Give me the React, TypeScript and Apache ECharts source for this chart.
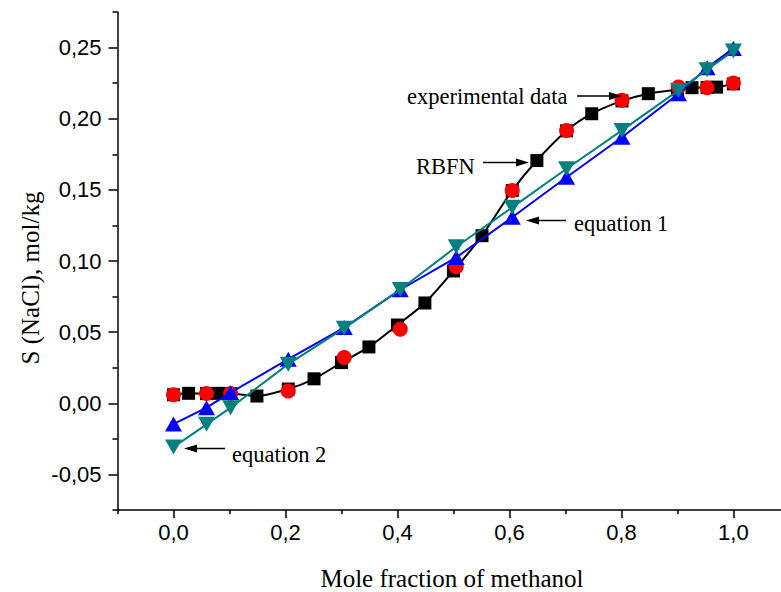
import React, { useEffect, useRef } from "react";
import * as echarts from "echarts";

// Experimental data (red circles)
const expX = [0, 0.059, 0.102, 0.205, 0.305, 0.405, 0.505, 0.605, 0.702, 0.801, 0.902, 0.953, 1.0];
const expY = [0.006, 0.0068, 0.0068, 0.0087, 0.0321, 0.052, 0.096, 0.1495, 0.1918, 0.2129, 0.2223, 0.2218, 0.2251];

// RBFN (black squares, smooth curve)
const rbfnX = [0, 0.027, 0.059, 0.08, 0.102, 0.149, 0.205, 0.251, 0.3, 0.349, 0.4, 0.449, 0.5, 0.551, 0.605, 0.649, 0.702, 0.747, 0.801, 0.848, 0.9, 0.926, 0.953, 0.97, 1.0];
const rbfnY = [0.006, 0.007, 0.0068, 0.007, 0.0068, 0.0051, 0.010, 0.0172, 0.0286, 0.0396, 0.055, 0.0705, 0.093, 0.1178, 0.1495, 0.1706, 0.1915, 0.2035, 0.2125, 0.2176, 0.2205, 0.2218, 0.222, 0.2222, 0.2245];

// Equation 1 (blue up-triangles)
const eq1X = expX;
const eq1Y = [-0.0146, -0.0031, 0.0075, 0.031, 0.0532, 0.0798, 0.1025, 0.1307, 0.1589, 0.187, 0.2176, 0.2359, 0.2493];

// Equation 2 (teal down-triangles)
const eq2X = expX;
const eq2Y = [-0.0308, -0.0148, -0.0031, 0.0275, 0.0528, 0.08, 0.11, 0.1377, 0.1648, 0.1918, 0.2199, 0.2345, 0.2476];

// Ticks
const xMajor = [0, 0.2, 0.4, 0.6, 0.8, 1.0];
const xMinor = [-0.1, 0.1, 0.3, 0.5, 0.7, 0.9];
const yMajor = [-0.05, 0, 0.05, 0.1, 0.15, 0.2, 0.25];
const yMinor = [-0.075, -0.025, 0.025, 0.075, 0.125, 0.175, 0.225, 0.275];

const zip = (xs: number[], ys: number[]) => xs.map((x, i) => [x, ys[i]]);

const serif = '"Liberation Serif", "Times New Roman", serif';
const sans = '"Liberation Sans", Arial, sans-serif';

const textEl = (text: string, x: number, y: number, size: number, rotation = 0, align = "left") => ({
  type: "text",
  x,
  y,
  rotation,
  z: 100,
  style: {
    text,
    font: `${size}px ${serif}`,
    fill: "#000",
    align,
    verticalAlign: "middle",
    textAlign: align,
    textVerticalAlign: "middle",
  },
});

const arrowEl = (x1: number, x2: number, y: number) => {
  const dir = x2 > x1 ? 1 : -1;
  const headLen = 13;
  const baseX = x2 - dir * headLen;
  return [
    { type: "line", z: 100, shape: { x1, y1: y, x2: baseX, y2: y }, style: { stroke: "#000", lineWidth: 1.5 } },
    {
      type: "polygon",
      z: 100,
      shape: { points: [[baseX, y - 4], [x2, y], [baseX, y + 4]] },
      style: { fill: "#000" },
    },
  ];
};

export default function App() {
  const ref = useRef<HTMLDivElement>(null);
  useEffect(() => {
    if (!ref.current) return;
    const chart = echarts.init(ref.current, undefined, { renderer: "svg" });
    const axisLineStyle = { color: "#000", width: 1.5 };
    chart.setOption({
      animation: false,
      backgroundColor: "#fff",
      grid: { left: 117.5, right: 0, top: 12, bottom: 82, containLabel: false },
      xAxis: [
        {
          type: "value",
          min: -0.1,
          max: 1.085,
          position: "bottom",
          axisLine: { show: true, onZero: false, lineStyle: axisLineStyle },
          axisTick: { show: true, inside: false, length: 8, customValues: xMajor, lineStyle: { color: "#000", width: 1.5 } },
          axisLabel: {
            show: true,
            customValues: xMajor,
            margin: 11,
            color: "#000",
            fontFamily: sans,
            fontSize: 22,
            formatter: (v: number) => v.toFixed(1).replace(".", ","),
          },
          splitLine: { show: false },
        },
        {
          type: "value",
          min: -0.1,
          max: 1.085,
          position: "bottom",
          axisLine: { show: false, onZero: false },
          axisTick: { show: true, inside: false, length: 4, customValues: xMinor, lineStyle: { color: "#000", width: 1.5 } },
          axisLabel: { show: false },
          splitLine: { show: false },
        },
      ],
      yAxis: [
        {
          type: "value",
          min: -0.075,
          max: 0.275,
          position: "left",
          axisLine: { show: true, onZero: false, lineStyle: axisLineStyle },
          axisTick: { show: true, inside: false, length: 9, customValues: yMajor, lineStyle: { color: "#000", width: 1.5 } },
          axisLabel: {
            show: true,
            customValues: yMajor,
            margin: 16,
            color: "#000",
            fontFamily: sans,
            fontSize: 22,
            formatter: (v: number) => v.toFixed(2).replace(".", ","),
          },
          splitLine: { show: false },
        },
        {
          type: "value",
          min: -0.075,
          max: 0.275,
          position: "left",
          axisLine: { show: false, onZero: false },
          axisTick: { show: true, inside: false, length: 5, customValues: yMinor, lineStyle: { color: "#000", width: 1.5 } },
          axisLabel: { show: false },
          splitLine: { show: false },
        },
      ],
      series: [
        {
          name: "RBFN",
          type: "line",
          data: zip(rbfnX, rbfnY),
          smooth: 0.25,
          symbol: "rect",
          symbolSize: 13,
          itemStyle: { color: "#000", borderWidth: 0 },
          lineStyle: { color: "#000", width: 2 },
          z: 2,
        },
        {
          name: "experimental data",
          type: "scatter",
          data: zip(expX, expY),
          symbol: "circle",
          symbolSize: 15,
          itemStyle: { color: "#ff0000", opacity: 1 },
          z: 3,
        },
        {
          name: "equation 1",
          type: "line",
          data: zip(eq1X, eq1Y),
          symbol: "triangle",
          symbolSize: [17, 15],
          itemStyle: { color: "#0000ff", borderWidth: 0 },
          lineStyle: { color: "#0000ff", width: 2 },
          z: 4,
        },
        {
          name: "equation 2",
          type: "line",
          data: zip(eq2X, eq2Y),
          symbol: "triangle",
          symbolRotate: 180,
          symbolSize: [17, 15],
          itemStyle: { color: "#008080", borderWidth: 0 },
          lineStyle: { color: "#008080", width: 2 },
          z: 5,
        },
      ],
      graphic: [
        textEl("Mole fraction of methanol", 452, 578, 25, 0, "center"),
        textEl("S (NaCl), mol/kg", 30, 278, 25, Math.PI / 2, "center"),
        textEl("experimental data", 407, 96, 22.5),
        ...arrowEl(577, 622, 96),
        textEl("RBFN", 416, 166, 22.5),
        ...arrowEl(483, 529, 162.5),
        textEl("equation 1", 574, 223, 22.5),
        ...arrowEl(566, 526, 220.5),
        textEl("equation 2", 232, 454, 22.5),
        ...arrowEl(225, 184, 448.5),
      ],
    });
    return () => chart.dispose();
  }, []);
  return (
    <div
      ref={ref}
      style={{ position: "absolute", left: 0, top: 0, width: 781, height: 592, background: "#fff" }}
    />
  );
}
